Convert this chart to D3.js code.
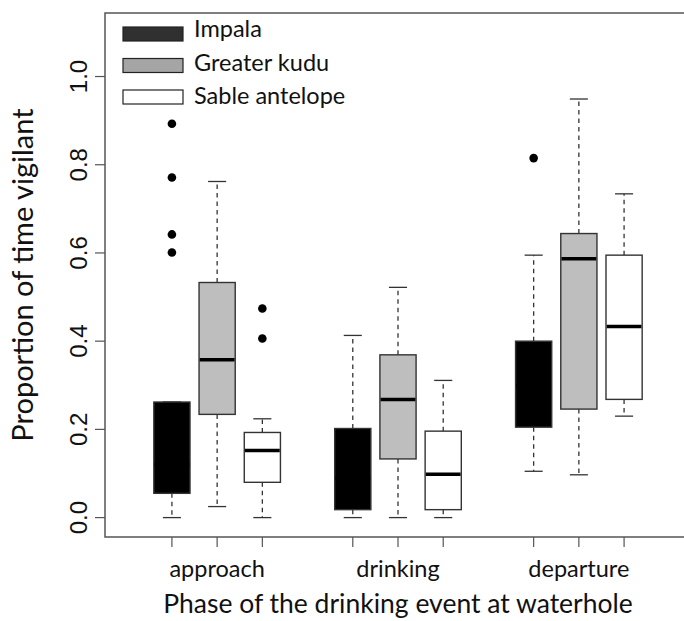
<!DOCTYPE html>
<html>
<head>
<meta charset="utf-8">
<script src="https://cdn.jsdelivr.net/npm/d3@7"></script>
<style>
  body { margin: 0; background: #fff; }
  svg { display: block; }
</style>
</head>
<body>
<div id="chart"></div>
<script>
// data
const phases = ["approach", "drinking", "departure"];
const species = ["Impala", "Greater kudu", "Sable antelope"];
const yTicks = [0, 0.2, 0.4, 0.6, 0.8, 1.0];

// [lower whisker, Q1, median, Q3, upper whisker] per phase
const impalaStats = [
  [0.000, 0.055, 0.120, 0.262, 0.262],
  [0.000, 0.018, 0.090, 0.202, 0.413],
  [0.105, 0.205, 0.300, 0.400, 0.595]
];
const kuduStats = [
  [0.025, 0.234, 0.358, 0.533, 0.762],
  [0.000, 0.133, 0.268, 0.369, 0.522],
  [0.097, 0.246, 0.587, 0.644, 0.949]
];
const sableStats = [
  [0.000, 0.080, 0.152, 0.193, 0.224],
  [0.000, 0.018, 0.098, 0.196, 0.311],
  [0.230, 0.268, 0.433, 0.595, 0.734]
];
const impalaOutliers = [[0.601, 0.642, 0.771, 0.893], [], [0.815]];
const kuduOutliers = [[], [], []];
const sableOutliers = [[0.406, 0.474], [], []];

const boxFills = ["#000000", "#bebebe", "#ffffff"];
const legendFills = ["#303030", "#a5a5a5", "#ffffff"];

const width = 684, height = 621;
const frame = { left: 105, right: 691, top: 13, bottom: 537 };

const svg = d3.select("#chart").append("svg")
  .attr("width", width)
  .attr("height", height);

// R style ranges: xlim c(0,12), ylim c(0,1.1), each padded 4%
const x = d3.scaleLinear().domain([-0.48, 12.48]).range([frame.left, frame.right]);
const y = d3.scaleLinear().domain([-0.044, 1.144]).range([frame.bottom, frame.top]);

const allStats = [impalaStats, kuduStats, sableStats];
const allOutliers = [impalaOutliers, kuduOutliers, sableOutliers];

const boxes = [];
phases.forEach((p, i) => {
  species.forEach((s, j) => {
    const st = allStats[j][i];
    boxes.push({
      phase: p, sp: j, pos: i * 4 + j + 1,
      lo: st[0], q1: st[1], med: st[2], q3: st[3], hi: st[4],
      out: allOutliers[j][i]
    });
  });
});

const boxW = x(0.8) - x(0);
const capW = boxW / 2;

const g = svg.append("g");

const bx = g.selectAll("g.box")
  .data(boxes)
  .enter()
  .append("g")
  .attr("class", "box");

// dashed whiskers
bx.append("line")
  .attr("x1", d => x(d.pos)).attr("x2", d => x(d.pos))
  .attr("y1", d => y(d.q3)).attr("y2", d => y(d.hi))
  .attr("stroke", "#333").attr("stroke-width", 1.3)
  .attr("stroke-dasharray", "4.5,4");
bx.append("line")
  .attr("x1", d => x(d.pos)).attr("x2", d => x(d.pos))
  .attr("y1", d => y(d.q1)).attr("y2", d => y(d.lo))
  .attr("stroke", "#333").attr("stroke-width", 1.3)
  .attr("stroke-dasharray", "4.5,4");

// caps
bx.append("line")
  .attr("x1", d => x(d.pos) - capW / 2).attr("x2", d => x(d.pos) + capW / 2)
  .attr("y1", d => y(d.hi)).attr("y2", d => y(d.hi))
  .attr("stroke", "#333").attr("stroke-width", 1.3);
bx.append("line")
  .attr("x1", d => x(d.pos) - capW / 2).attr("x2", d => x(d.pos) + capW / 2)
  .attr("y1", d => y(d.lo)).attr("y2", d => y(d.lo))
  .attr("stroke", "#333").attr("stroke-width", 1.3);

// boxes
bx.append("rect")
  .attr("x", d => x(d.pos) - boxW / 2)
  .attr("width", boxW)
  .attr("y", d => y(d.q3))
  .attr("height", d => y(d.q1) - y(d.q3))
  .attr("fill", d => boxFills[d.sp])
  .attr("stroke", "#333")
  .attr("stroke-width", 1.4);

// medians (black on the impala boxes, so they vanish there as in the source)
bx.append("line")
  .attr("x1", d => x(d.pos) - boxW / 2 + 0.7).attr("x2", d => x(d.pos) + boxW / 2 - 0.7)
  .attr("y1", d => y(d.med)).attr("y2", d => y(d.med))
  .attr("stroke", "#000").attr("stroke-width", 3.5);

// outliers
bx.selectAll("circle")
  .data(d => d.out.map(v => ({ pos: d.pos, v })))
  .enter()
  .append("circle")
  .attr("cx", d => x(d.pos))
  .attr("cy", d => y(d.v))
  .attr("r", 4.3)
  .attr("fill", "#000");

// plot frame (right side falls just outside the picture)
svg.append("rect")
  .attr("x", frame.left).attr("y", frame.top)
  .attr("width", frame.right - frame.left)
  .attr("height", frame.bottom - frame.top)
  .attr("fill", "none")
  .attr("stroke", "#555")
  .attr("stroke-width", 1.5);

// y axis ticks + rotated labels
const yAx = svg.append("g");
yAx.selectAll("line")
  .data(yTicks)
  .enter()
  .append("line")
  .attr("x1", frame.left - 10).attr("x2", frame.left)
  .attr("y1", d => y(d)).attr("y2", d => y(d))
  .attr("stroke", "#555").attr("stroke-width", 1.2);
yAx.selectAll("text")
  .data(yTicks)
  .enter()
  .append("text")
  .attr("transform", d => `translate(87, ${y(d)}) rotate(-90)`)
  .attr("text-anchor", "middle")
  .attr("font-family", "Liberation Sans, Arial, sans-serif")
  .attr("font-size", 24)
  .attr("fill", "#111")
  .text(d => d.toFixed(1));

// x axis ticks under each box
svg.append("g").selectAll("line")
  .data(boxes)
  .enter()
  .append("line")
  .attr("x1", d => x(d.pos)).attr("x2", d => x(d.pos))
  .attr("y1", frame.bottom).attr("y2", frame.bottom + 10)
  .attr("stroke", "#555").attr("stroke-width", 1.2);

const labelFont = "Lato, 'Open Sans', sans-serif";

svg.append("g").selectAll("text")
  .data(phases)
  .enter()
  .append("text")
  .attr("x", (d, i) => x(i * 4 + 2))
  .attr("y", 577)
  .attr("text-anchor", "middle")
  .attr("font-family", labelFont)
  .attr("font-size", 23.5)
  .attr("fill", "#111")
  .text(d => d);

// axis titles
svg.append("text")
  .attr("x", (frame.left + frame.right) / 2)
  .attr("y", 613)
  .attr("text-anchor", "middle")
  .attr("font-family", labelFont)
  .attr("font-size", 26.5)
  .attr("fill", "#111")
  .text("Phase of the drinking event at waterhole");

svg.append("text")
  .attr("transform", `translate(33, ${(frame.top + frame.bottom) / 2}) rotate(-90)`)
  .attr("text-anchor", "middle")
  .attr("font-family", labelFont)
  .attr("font-size", 29)
  .attr("fill", "#111")
  .text("Proportion of time vigilant");

// legend
const legend = svg.append("g").attr("class", "legend");
const items = legend.selectAll("g")
  .data(species)
  .enter()
  .append("g");

items.append("rect")
  .attr("x", 123)
  .attr("y", (d, i) => 27 + i * 31.5)
  .attr("width", 60)
  .attr("height", 14)
  .attr("fill", (d, i) => legendFills[i])
  .attr("stroke", "#222")
  .attr("stroke-width", 1.2);

items.append("text")
  .attr("x", 194)
  .attr("y", (d, i) => 37 + i * 33.5)
  .attr("font-family", labelFont)
  .attr("font-size", 23.5)
  .attr("fill", "#111")
  .text(d => d);
</script>
</body>
</html>
